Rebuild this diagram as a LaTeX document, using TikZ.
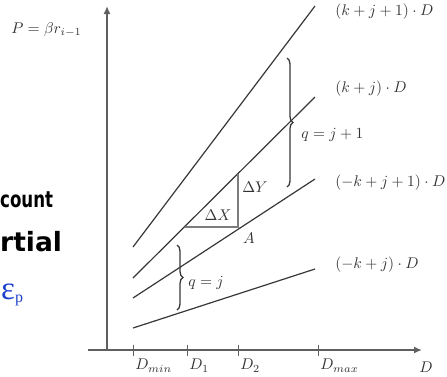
\documentclass[tikz,border=0pt]{standalone}
\usepackage{fontspec}
\newfontfamily\slidefont{DejaVu Sans}
\newfontfamily\epsfont{Liberation Serif}
\usetikzlibrary{arrows.meta,decorations.pathreplacing,positioning,calc}
\definecolor{xAxis}{RGB}{95,95,95}
\definecolor{xLine}{RGB}{55,55,55}
\definecolor{xTri}{RGB}{125,125,125}
\definecolor{xBlue}{RGB}{30,65,205}
\tikzset{
  axis/.style={xAxis,line width=2pt,-{Latex[length=8pt,width=7pt]}},
  level/.style={xLine,line width=1.2pt},
  tri/.style={xTri,line width=1.8pt},
  tick/.style={xAxis,line width=0.8pt},
  brc/.style={decorate,decoration={brace,amplitude=6pt},xLine,line width=1.3pt},
  lbl/.style={scale=1.55,inner sep=0pt,text=black!80},
  slide/.style={inner sep=0pt,font=\slidefont\bfseries},
}

\begin{document}
\begin{tikzpicture}[x=1pt,y=-1pt]
  \useasboundingbox (0,0) rectangle (447,376);
  % leftover slide text
  \node[slide,anchor=base west,xscale=0.74,font=\slidefont\bfseries\fontsize{22.5}{26}\selectfont] (cnt) at (0,207) {count};
  \node[slide,anchor=base west,font=\slidefont\bfseries\fontsize{26.5}{30}\selectfont] (rtl) at (0,251) {rtial};
  \node[anchor=base west,inner sep=0pt,text=xBlue] (eps) at (1,299) {\epsfont\fontsize{33}{36}\selectfont ε\fontsize{16}{18}\selectfont\raisebox{-3pt}{p}};

  % axes
  \coordinate (org) at (107,350);
  \coordinate (xbeg) at (88,350);
  \coordinate (xend) at (422,350);
  \coordinate (yend) at (107,6);
  \draw[axis] (xbeg) -- (xend);
  \draw[axis] (org) -- (yend);
  \node[lbl,anchor=west] (plbl) at (11,30) {$P=\beta r_{i-1}$};
  \node[lbl] (dlbl) at (426,367) {$D$};

  % ticks on the D axis
  \foreach \px/\nm/\txt in {133/dmin/D_{min},187/done/D_1,238/dtwo/D_2,318/dmax/D_{max}} {
    \coordinate (\nm) at (\px,350);
    \draw[tick] ([yshift=5pt]\nm) -- ([yshift=-6pt]\nm);
    \node[lbl,anchor=north west] (\nm l) at ([xshift=2pt,yshift=-9pt]\nm) {$\txt$};
  }

  % the four levels
  \foreach \i/\ya/\yb/\yt/\txt in {1/247/6/12/(k+j+1)\cdot D,2/278/97/89/(k+j)\cdot D,3/298/179/183/(-k+j+1)\cdot D,4/328/269/265/(-k+j)\cdot D} {
    \coordinate (s\i) at (133,\ya);
    \coordinate (e\i) at (315,\yb);
    \draw[level] (s\i) -- (e\i);
    \node[lbl,anchor=west] (t\i) at (335,\yt) {$\txt$};
  }

  % step triangle
  \coordinate (B) at (185,227);
  \coordinate (A) at (238,227);
  \coordinate (C) at (238,174);
  \draw[tri] (B) -- (A) -- (C);
  \node[lbl] (dx) at (218,215) {$\Delta X$};
  \node[lbl,anchor=west] (dy) at (242,187) {$\Delta Y$};
  \node[lbl] (alab) at (249,238) {$A$};

  % braces
  \coordinate (b1t) at (287,58);
  \coordinate (b1b) at (287,187);
  \draw[brc] (b1t) -- (b1b);
  \node[lbl,anchor=west] (q1) at (301,135) {$q=j+1$};
  \coordinate (b2t) at (177,245);
  \coordinate (b2b) at (177,310);
  \draw[brc] (b2t) -- (b2b);
  \node[lbl,anchor=west] (q2) at (188,283) {$q=j$};
\end{tikzpicture}
\end{document}
